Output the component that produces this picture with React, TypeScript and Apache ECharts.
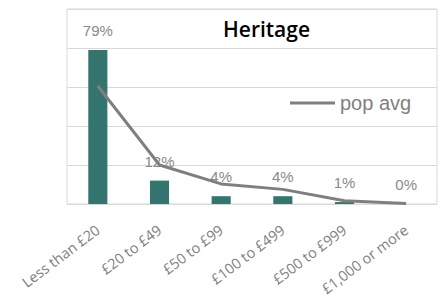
import React, { useEffect, useRef } from "react";
import * as echarts from "echarts";

const categories = ["Less than £20", "£20 to £49", "£50 to £99", "£100 to £499", "£500 to £999", "£1,000 or more"];
const heritageValues = [79, 12, 4, 4, 1, 0];
const popAvgValues = [60.5, 20, 10.3, 7.5, 1.7, 0.3];
const titleText = "Heritage";
const legendName = "pop avg";

export default function App() {
  const ref = useRef<HTMLDivElement>(null);
  useEffect(() => {
    if (!ref.current) return;
    const chart = echarts.init(ref.current, undefined, { renderer: "svg" });
    const font = "'Liberation Sans', Arial, sans-serif";
    const labelFont = "'Open Sans', sans-serif";
    chart.setOption({
      animation: false,
      textStyle: { fontFamily: font },
      title: {
        text: titleText,
        left: 218,
        top: 13,
        textStyle: { fontFamily: labelFont, fontSize: 21, fontWeight: 600, color: "#000" },
      },
      legend: {
        data: [{ name: legendName, icon: "rect" }],
        left: 285,
        top: 88,
        itemWidth: 45,
        itemHeight: 3,
        itemGap: 3,
        textStyle: { fontFamily: font, fontSize: 20, color: "#7f7f7f" },
      },
      grid: {
        left: 67,
        right: 7,
        top: 9,
        bottom: 103,
        show: true,
        borderColor: "#d9d9d9",
        borderWidth: 1,
      },
      xAxis: {
        type: "category",
        data: categories,
        axisLine: { show: false },
        axisTick: { show: false },
        axisLabel: {
          rotate: 37,
          interval: 0,
          margin: 24,
          fontFamily: labelFont,
          fontSize: 14.5,
          color: "#7f7f7f",
        },
      },
      yAxis: {
        type: "value",
        min: 0,
        max: 100,
        interval: 20,
        axisLabel: { show: false },
        axisLine: { show: false },
        axisTick: { show: false },
        splitLine: { lineStyle: { color: "#d9d9d9", width: 1 } },
      },
      series: [
        {
          name: "Heritage",
          type: "bar",
          data: heritageValues,
          barWidth: "31%",
          itemStyle: { color: "#35756f" },
          label: {
            show: true,
            position: "top",
            distance: 12,
            formatter: "{c}%",
            fontFamily: font,
            fontSize: 15,
            color: "#898989",
          },
        },
        {
          name: legendName,
          type: "line",
          data: popAvgValues,
          symbol: "none",
          lineStyle: { color: "#7f7f7f", width: 3 },
          itemStyle: { color: "#7f7f7f" },
          z: 3,
        },
      ],
    });
    return () => chart.dispose();
  }, []);
  return (
    <div
      ref={ref}
      style={{ position: "absolute", left: 0, top: 0, width: 444, height: 307, background: "#fff" }}
    />
  );
}
